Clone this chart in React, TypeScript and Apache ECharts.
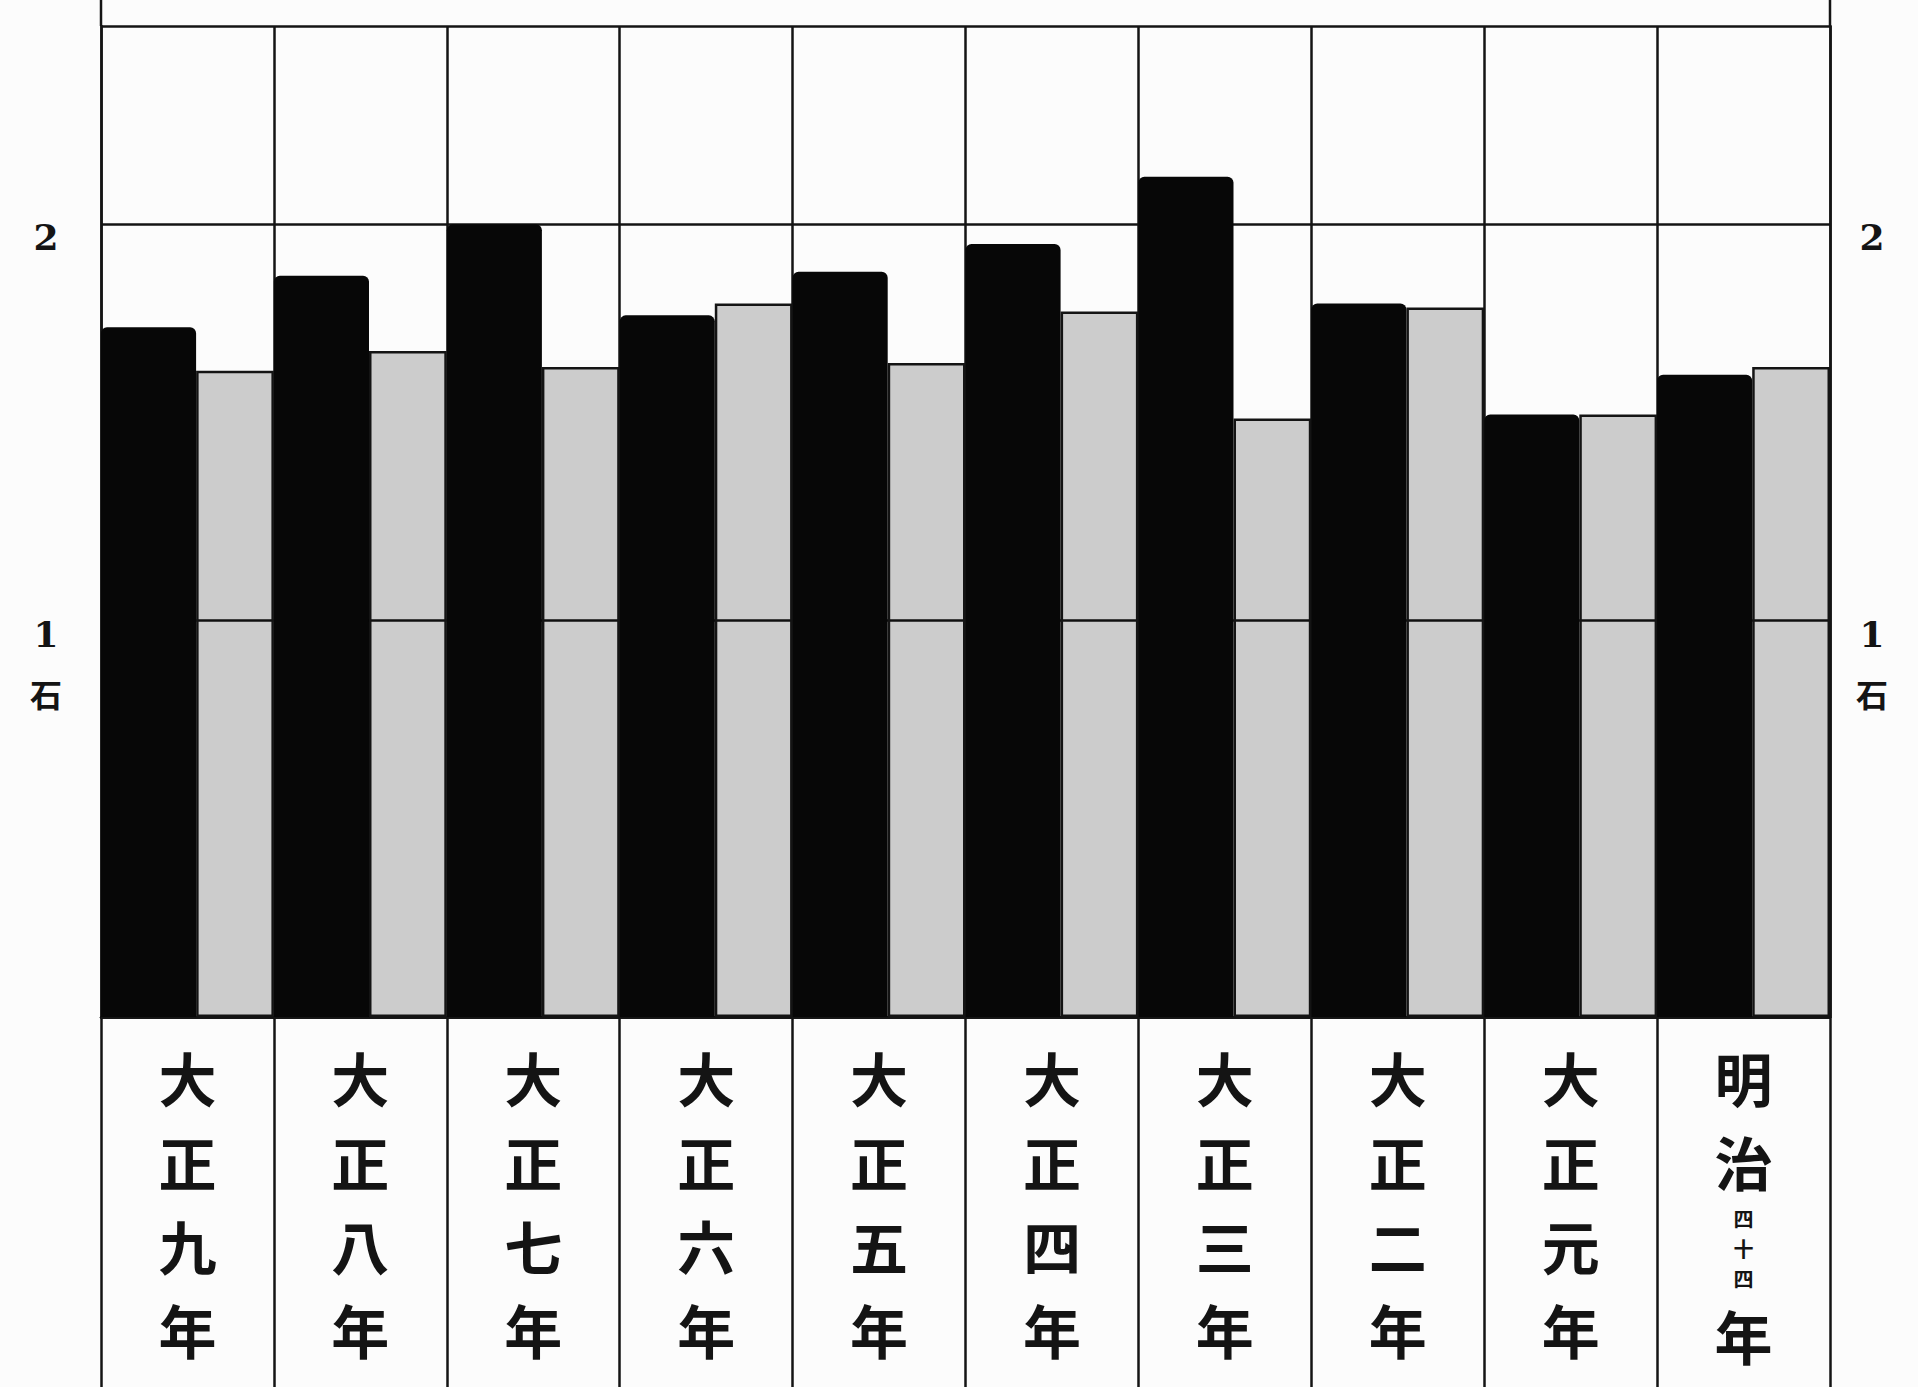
import React, { useEffect, useRef } from "react";
import * as echarts from "echarts";

// Categories (left to right, as printed)
const categories = [
  "大正九年",
  "大正八年",
  "大正七年",
  "大正六年",
  "大正五年",
  "大正四年",
  "大正三年",
  "大正二年",
  "大正元年",
  "明治四十四年",
];

// Black bars (first of each pair)
const blackValues = [1.74, 1.87, 2.0, 1.77, 1.88, 1.95, 2.12, 1.8, 1.52, 1.62];
// Grey bars (second of each pair)
const greyValues = [1.63, 1.68, 1.64, 1.8, 1.65, 1.78, 1.51, 1.79, 1.52, 1.64];

// Value axis
const yMin = 0;
const yMax = 2.5;
const yInterval = 1;
const yLabelValues = [1, 2];
const yLabelTexts = ["1", "2"];
const yUnit = "石";

const W = 1918;
const H = 1387;
const GRID_LEFT = 101;
const GRID_RIGHT = 88;
const GRID_TOP = 26;
const GRID_BOTTOM = 370;

const INK = "#141414";

function yLabel(v: number): string {
  const i = yLabelValues.indexOf(v);
  if (i < 0) return "";
  const t = yLabelTexts[i];
  if (v === yLabelValues[0]) return `{n|${t}}\n{u|${yUnit}}`;
  return `{n|${t}}`;
}

function xLabel(v: string): string {
  const chars = Array.from(v);
  if (chars.length <= 4) return chars.map((c) => `{a|${c}}`).join("\n");
  const parts: string[] = [];
  chars.forEach((c, i) => {
    if (i >= 2 && i < chars.length - 1) parts.push(`{s|${c}}`);
    else parts.push(`{a|${c}}`);
  });
  return parts.join("\n");
}

export default function App() {
  const ref = useRef<HTMLDivElement>(null);
  useEffect(() => {
    if (!ref.current) return;
    const chart = echarts.init(ref.current, undefined, { renderer: "svg" });
    const lineStyle = { color: INK, width: 2.5 };
    const yRich = {
      n: {
        fontFamily: "DejaVu Serif",
        fontWeight: "bold",
        fontSize: 36,
        lineHeight: 26,
        color: INK,
      },
      u: {
        fontFamily: "Noto Sans CJK JP",
        fontWeight: "bold",
        fontSize: 32,
        lineHeight: 92,
        color: INK,
      },
    };
    chart.setOption({
      animation: false,
      backgroundColor: "#fcfcfc",
      grid: {
        left: GRID_LEFT,
        right: GRID_RIGHT,
        top: GRID_TOP,
        bottom: GRID_BOTTOM,
        containLabel: false,
      },
      xAxis: [
        {
          type: "category",
          data: categories,
          position: "bottom",
          boundaryGap: true,
          axisLine: { show: true, lineStyle },
          axisTick: { show: true, length: GRID_BOTTOM, interval: 0, lineStyle },
          splitLine: { show: true, interval: 0, lineStyle },
          axisLabel: {
            interval: 0,
            margin: 18,
            verticalAlign: "top",
            formatter: xLabel,
            rich: {
              a: {
                fontFamily: "Noto Sans CJK JP",
                fontWeight: "bold",
                fontSize: 58,
                lineHeight: 84,
                color: INK,
              },
              s: {
                fontFamily: "Noto Sans CJK JP",
                fontWeight: "bold",
                fontSize: 20,
                lineHeight: 30,
                color: INK,
              },
            },
          },
        },
        {
          type: "category",
          data: categories,
          position: "top",
          axisLine: { show: true, lineStyle },
          axisTick: { show: false },
          axisLabel: { show: false },
          splitLine: { show: false },
        },
      ],
      yAxis: [
        {
          type: "value",
          position: "left",
          min: yMin,
          max: yMax,
          interval: yInterval,
          axisLine: { show: true, lineStyle },
          axisTick: { show: false },
          splitLine: { show: true, lineStyle },
          axisLabel: {
            margin: 55,
            align: "center",
            verticalAlign: "top",
            formatter: yLabel,
            rich: yRich,
          },
        },
        {
          type: "value",
          position: "right",
          min: yMin,
          max: yMax,
          interval: yInterval,
          axisLine: { show: true, lineStyle },
          axisTick: { show: false },
          splitLine: { show: false },
          axisLabel: {
            margin: 42,
            align: "center",
            verticalAlign: "top",
            formatter: yLabel,
            rich: yRich,
          },
        },
      ],
      graphic: [
        {
          type: "line",
          shape: { x1: GRID_LEFT, y1: 0, x2: GRID_LEFT, y2: GRID_TOP },
          style: { stroke: INK, lineWidth: 2.5 },
        },
        {
          type: "line",
          shape: { x1: W - GRID_RIGHT, y1: 0, x2: W - GRID_RIGHT, y2: GRID_TOP },
          style: { stroke: INK, lineWidth: 2.5 },
        },
      ],
      series: [
        {
          name: "black",
          type: "bar",
          data: blackValues,
          barWidth: "55%",
          barGap: "0%",
          itemStyle: { color: "#070707", borderRadius: [6, 6, 0, 0] },
        },
        {
          name: "grey",
          type: "bar",
          data: greyValues,
          barWidth: "45%",
          barGap: "0%",
          itemStyle: {
            color: "rgba(0,0,0,0.19)",
            borderColor: INK,
            borderWidth: 2.5,
          },
        },
      ],
    });
    return () => chart.dispose();
  }, []);
  return (
    <div
      ref={ref}
      style={{ position: "fixed", left: 0, top: 0, width: W, height: H }}
    />
  );
}
